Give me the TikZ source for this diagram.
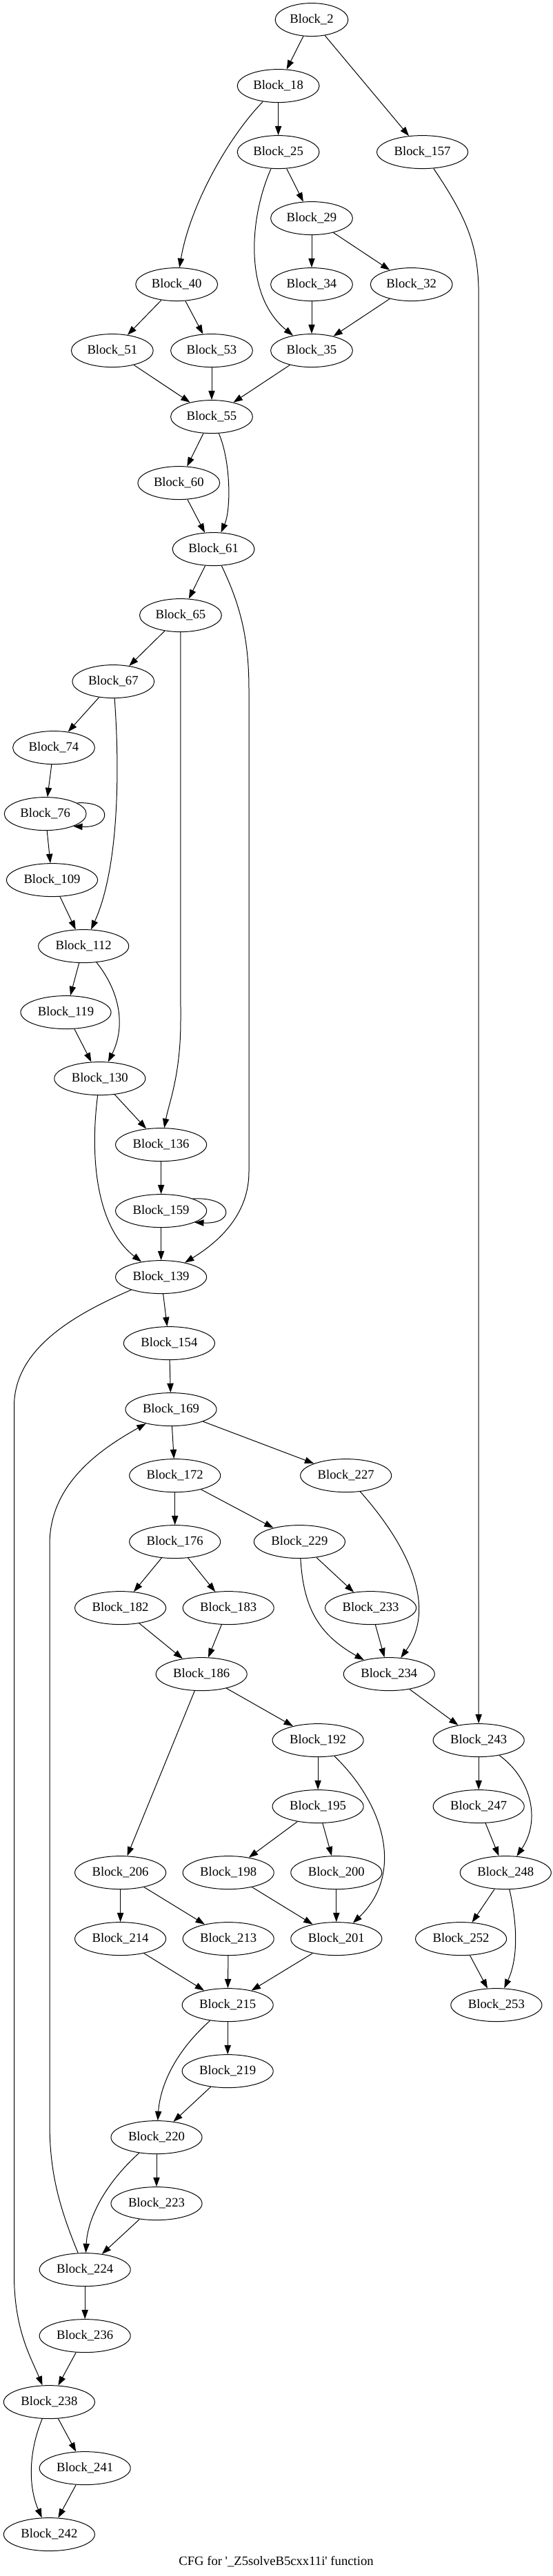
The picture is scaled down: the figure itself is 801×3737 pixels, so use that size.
\documentclass[tikz,border=0pt]{standalone}
\usepackage{fontspec}
\setmainfont{Liberation Serif}
\usetikzlibrary{arrows.meta, shapes.geometric}

\begin{document}
\begin{tikzpicture}[x=0.75pt, y=-0.75pt,
  block/.style={ellipse, draw, line width=0.75pt, inner xsep=4.3pt, inner ysep=2pt,
                minimum height=36pt, font=\fontsize{14pt}{17pt}\selectfont},
  flow/.style={draw, line width=0.75pt, -{Triangle[length=10pt, width=7pt]}},
  caption/.style={font=\fontsize{14pt}{17pt}\selectfont}]

  \useasboundingbox (0,0) rectangle (801,3737);

  % ---- Blocks (top part) ----
  \node[block] (n2)   at (452,28.6)   {Block\_2};
  \node[block] (n18)  at (403.6,124.6) {Block\_18};
  \node[block] (n25)  at (403.6,220.6) {Block\_25};
  \node[block] (n157) at (612.6,220.6) {Block\_157};
  \node[block] (n29)  at (452,316.6)  {Block\_29};
  \node[block] (n40)  at (256.2,412.6) {Block\_40};
  \node[block] (n34)  at (452,412.6)  {Block\_34};
  \node[block] (n32)  at (596.7,412.6) {Block\_32};
  \node[block] (n51)  at (162.8,508.6) {Block\_51};
  \node[block] (n53)  at (307,508.6)  {Block\_53};
  \node[block] (n35)  at (452,508.6)  {Block\_35};
  \node[block] (n55)  at (307,604.6)  {Block\_55};
  \node[block] (n60)  at (259.3,700.6) {Block\_60};
  \node[block] (n61)  at (309.6,796.6) {Block\_61};
  \node[block] (n65)  at (261.9,892.6) {Block\_65};
  \node[block] (n67)  at (164.3,988.6) {Block\_67};
  \node[block] (n74)  at (78,1084.6)   {Block\_74};
  \node[block] (n76)  at (65.7,1180.6) {Block\_76};
  \node[block] (n109) at (75.5,1276.6) {Block\_109};
  \node[block] (n112) at (121.2,1372.6) {Block\_112};
  \node[block] (n119) at (95.5,1468.6) {Block\_119};
  \node[block] (n130) at (144.8,1564.6) {Block\_130};
  \node[block] (n136) at (233.6,1660.6) {Block\_136};
  \node[block] (n159) at (233.6,1756.6) {Block\_159};
  \node[block] (n139) at (233.6,1852.6) {Block\_139};

  % ---- Blocks (middle part) ----
  \node[block] (n154) at (245.4,1948.6) {Block\_154};
  \node[block] (n169) at (248,2044.6)   {Block\_169};
  \node[block] (n172) at (253.7,2140.6) {Block\_172};
  \node[block] (n227) at (501.7,2140.6) {Block\_227};
  \node[block] (n176) at (253.7,2236.6) {Block\_176};
  \node[block] (n229) at (434.4,2236.6) {Block\_229};
  \node[block] (n182) at (174.6,2332.6) {Block\_182};
  \node[block] (n183) at (331.2,2332.6) {Block\_183};
  \node[block] (n233) at (537.6,2332.6) {Block\_233};
  \node[block] (n186) at (292.2,2428.6) {Block\_186};
  \node[block] (n234) at (564.3,2428.6) {Block\_234};
  \node[block] (n192) at (461.1,2524.6) {Block\_192};
  \node[block] (n243) at (694.2,2524.6) {Block\_243};
  \node[block] (n195) at (461.1,2620.6) {Block\_195};
  \node[block] (n247) at (694.2,2620.6) {Block\_247};
  \node[block] (n206) at (174.6,2716.6) {Block\_206};
  \node[block] (n198) at (331.2,2716.6) {Block\_198};
  \node[block] (n200) at (487.8,2716.6) {Block\_200};
  \node[block] (n248) at (733.3,2716.6) {Block\_248};
  \node[block] (n214) at (174.6,2812.6) {Block\_214};
  \node[block] (n213) at (331.2,2812.6) {Block\_213};
  \node[block] (n201) at (487.8,2812.6) {Block\_201};
  \node[block] (n252) at (668.6,2812.6) {Block\_252};
  \node[block] (n215) at (330.2,2908.6) {Block\_215};
  \node[block] (n253) at (719.9,2908.6) {Block\_253};

  % ---- Blocks (bottom part) ----
  \node[block] (n219) at (330.2,3004.6) {Block\_219};
  \node[block] (n220) at (227,3100.6)   {Block\_220};
  \node[block] (n223) at (227,3196.6)   {Block\_223};
  \node[block] (n224) at (123.2,3292.6) {Block\_224};
  \node[block] (n236) at (123.2,3388.6) {Block\_236};
  \node[block] (n238) at (71.4,3484.6)  {Block\_238};
  \node[block] (n241) at (123.2,3580.6) {Block\_241};
  \node[block] (n242) at (71.4,3676.6)  {Block\_242};

  \node[caption] (title) at (400.5,3716) {CFG for \textquotesingle\_Z5solveB5cxx11i\textquotesingle{} function};

  % ---- Edges ----
  \draw[flow] (n2) -- (n18);
  \draw[flow] (n2) -- (n157);
  \draw[flow] (n18) -- (n25);
  \draw[flow] (n18) .. controls (330,200) and (275,300) .. (n40);
  \draw[flow] (n25) -- (n29);
  \draw[flow] (n25) .. controls (360,320) and (355,430) .. (n35);
  \draw[flow] (n157) .. controls (680,320) and (694.2,360) .. (694.2,430) -- (n243);
  \draw[flow] (n29) -- (n34);
  \draw[flow] (n29) -- (n32);
  \draw[flow] (n40) -- (n51);
  \draw[flow] (n40) -- (n53);
  \draw[flow] (n34) -- (n35);
  \draw[flow] (n32) -- (n35);
  \draw[flow] (n51) -- (n55);
  \draw[flow] (n53) -- (n55);
  \draw[flow] (n35) -- (n55);
  \draw[flow] (n55) -- (n60);
  \draw[flow] (n55) .. controls (335,670) and (335,740) .. (n61);
  \draw[flow] (n60) -- (n61);
  \draw[flow] (n61) -- (n65);
  \draw[flow] (n61) .. controls (350,880) and (361,930) .. (361,1000) -- (361,1700)
              .. controls (361,1760) and (320,1800) .. (n139);
  \draw[flow] (n65) -- (n67);
  \draw[flow] (n65) -- (262,1480) .. controls (262,1560) and (245,1600) .. (n136);
  \draw[flow] (n67) -- (n74);
  \draw[flow] (n67) .. controls (174,1120) and (172,1260) .. (n112);
  \draw[flow] (n74) -- (n76);
  \draw[flow] (n76.19) .. controls +(55,-3) and +(55,3) .. (n76.-24);
  \draw[flow] (n76) -- (n109);
  \draw[flow] (n109) -- (n112);
  \draw[flow] (n112) -- (n119);
  \draw[flow] (n112) .. controls (175,1440) and (182,1490) .. (n130);
  \draw[flow] (n119) -- (n130);
  \draw[flow] (n130) -- (n136);
  \draw[flow] (n130) .. controls (130,1680) and (140,1780) .. (n139);
  \draw[flow] (n136) -- (n159);
  \draw[flow] (n159.21) .. controls +(60,-3) and +(60,3) .. (n159.-19);
  \draw[flow] (n159) -- (n139);
  \draw[flow] (n139) -- (n154);
  \draw[flow] (n139) .. controls (100,1910) and (20.5,1960) .. (20.5,2040) -- (20.5,3300)
              .. controls (20.5,3380) and (45,3420) .. (n238);
  \draw[flow] (n154) -- (n169);
  \draw[flow] (n169) -- (n172);
  \draw[flow] (n169) -- (n227);
  \draw[flow] (n172) -- (n176);
  \draw[flow] (n172) -- (n229);
  \draw[flow] (n227) .. controls (590,2240) and (635,2330) .. (n234);
  \draw[flow] (n176) -- (n182);
  \draw[flow] (n176) -- (n183);
  \draw[flow] (n229) -- (n233);
  \draw[flow] (n229) .. controls (440,2330) and (460,2370) .. (n234);
  \draw[flow] (n182) -- (n186);
  \draw[flow] (n183) -- (n186);
  \draw[flow] (n233) -- (n234);
  \draw[flow] (n186) -- (n206);
  \draw[flow] (n186) -- (n192);
  \draw[flow] (n234) -- (n243);
  \draw[flow] (n192) -- (n195);
  \draw[flow] (n192) .. controls (560,2620) and (585,2720) .. (n201);
  \draw[flow] (n243) -- (n247);
  \draw[flow] (n243) .. controls (770,2580) and (785,2640) .. (n248);
  \draw[flow] (n195) -- (n198);
  \draw[flow] (n195) -- (n200);
  \draw[flow] (n247) -- (n248);
  \draw[flow] (n206) -- (n214);
  \draw[flow] (n206) -- (n213);
  \draw[flow] (n198) -- (n201);
  \draw[flow] (n200) -- (n201);
  \draw[flow] (n248) -- (n252);
  \draw[flow] (n248) .. controls (750,2790) and (752,2840) .. (n253);
  \draw[flow] (n214) -- (n215);
  \draw[flow] (n213) -- (n215);
  \draw[flow] (n201) -- (n215);
  \draw[flow] (n252) -- (n253);
  \draw[flow] (n215) -- (n219);
  \draw[flow] (n215) .. controls (250,2980) and (232,3030) .. (n220);
  \draw[flow] (n219) -- (n220);
  \draw[flow] (n220) -- (n223);
  \draw[flow] (n220) .. controls (150,3170) and (127,3220) .. (n224);
  \draw[flow] (n223) -- (n224);
  \draw[flow] (n224) .. controls (85,3200) and (72,3150) .. (72,3080) -- (72,2240)
              .. controls (72,2150) and (150,2100) .. (n169);
  \draw[flow] (n224) -- (n236);
  \draw[flow] (n236) -- (n238);
  \draw[flow] (n238) -- (n241);
  \draw[flow] (n238) .. controls (40,3560) and (42,3610) .. (n242);
  \draw[flow] (n241) -- (n242);

\end{tikzpicture}
\end{document}
